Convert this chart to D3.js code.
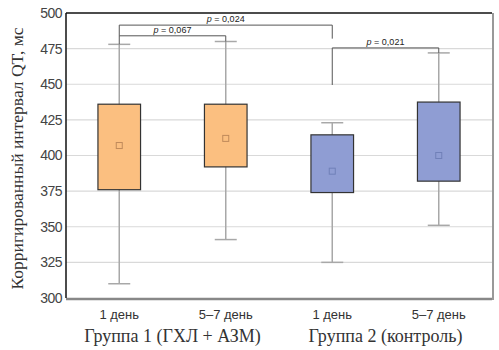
<!DOCTYPE html>
<html><head><meta charset="utf-8">
<script src="https://cdn.jsdelivr.net/npm/d3@7"></script>
<style>body{margin:0;background:#fff}svg{display:block}</style>
</head><body><svg id="c" width="499" height="350"></svg>
<script>
const categories = ["g1d1","g1d57","g2d1","g2d57"];
const dayLabels = ["1 день","5–7 день","1 день","5–7 день"];
const groupLabels = ["Группа 1 (ГХЛ + АЗМ)","Группа 2 (контроль)"];
const q1 = [376, 392, 374, 382];
const q3 = [436, 436, 414.5, 437.5];
const means = [407, 412, 389, 400];
const whiskerLow = [310, 341, 325, 351];
const whiskerHigh = [478, 480, 423, 472];
const fills = ["#fbbf80","#fbbf80","#8f9dd3","#8f9dd3"];
const yTicks = [300,325,350,375,400,425,450,475,500];
// brackets
const bracketFrom = [0, 0, 2];
const bracketTo = [2, 1, 3];
const bracketLevel = [491.5, 484, 475.5];
const bracketLeftEnd = [484, 478, 449.5];
const bracketRightEnd = [482, 480, 472];
const bracketLabel = ["0,024","0,067","0,021"];

const svg = d3.select("#c");
const L=66, R=492, T=13, B=298;
const x = d3.scaleBand().domain(categories).range([L,R]).paddingInner(0.6).paddingOuter(0.3);
const y = d3.scaleLinear().domain([300,500]).range([B,T]);
const cx = i => x(categories[i]) + x.bandwidth()/2;

// grid
svg.append("g").selectAll("line").data(yTicks.filter(t=>t>300&&t<500)).join("line")
  .attr("x1",L).attr("x2",R).attr("y1",d=>y(d)).attr("y2",d=>y(d))
  .attr("stroke","#d9d9d9").attr("stroke-width",1.2);

// y axis labels
const ax = svg.append("g").attr("transform",`translate(${L},0)`).call(d3.axisLeft(y).tickValues(yTicks).tickSize(0).tickPadding(4));
ax.select(".domain").remove();
ax.selectAll("text").attr("font-family","'Liberation Sans Narrow','Arial Narrow','Liberation Sans',sans-serif")
  .attr("font-size",14).attr("fill","#444").attr("letter-spacing","-0.5");

// boxes and whiskers
const g = svg.append("g");
categories.forEach((c,i)=>{
  const X = cx(i);
  g.append("line").attr("x1",X).attr("x2",X).attr("y1",y(whiskerLow[i])).attr("y2",y(whiskerHigh[i]))
    .attr("stroke","#a8a8a8").attr("stroke-width",1.5);
  [whiskerLow[i], whiskerHigh[i]].forEach(v=>{
    g.append("line").attr("x1",X-11).attr("x2",X+11).attr("y1",y(v)).attr("y2",y(v))
      .attr("stroke","#a8a8a8").attr("stroke-width",1.5);
  });
  g.append("rect").attr("x",x(c)).attr("width",x.bandwidth()).attr("y",y(q3[i])).attr("height",y(q1[i])-y(q3[i]))
    .attr("fill",fills[i]).attr("stroke","#333").attr("stroke-width",1.2);
  g.append("rect").attr("x",X-3).attr("y",y(means[i])-3).attr("width",6).attr("height",6)
    .attr("fill","none").attr("stroke", i<2 ? "#c08a5a" : "#7080b8").attr("stroke-width",1);
});

// brackets
const bg = svg.append("g");
bracketFrom.forEach((f,k)=>{
  const x1 = cx(f), x2 = cx(bracketTo[k]);
  const path = `M${x1},${y(bracketLeftEnd[k])}V${y(bracketLevel[k])}H${x2}V${y(bracketRightEnd[k])}`;
  bg.append("path").attr("d",path).attr("fill","none").attr("stroke","#555").attr("stroke-width",1);
  const t = bg.append("text").attr("x", k===0 ? cx(1) : (x1+x2)/2).attr("y",y(bracketLevel[k])-3).attr("text-anchor","middle")
    .attr("font-family","'Liberation Sans','Arial',sans-serif").attr("font-size",9).attr("fill","#222");
  t.append("tspan").attr("font-style","italic").text("p");
  t.append("tspan").text(" = " + bracketLabel[k]);
});

// frame
svg.append("line").attr("x1",L).attr("x2",R).attr("y1",B+1).attr("y2",B+1).attr("stroke","#888").attr("stroke-width",2.5);
svg.append("line").attr("x1",R+1).attr("x2",R+1).attr("y1",T).attr("y2",B+2).attr("stroke","#999").attr("stroke-width",2);
svg.append("line").attr("x1",L).attr("x2",R).attr("y1",T).attr("y2",T).attr("stroke","#111").attr("stroke-width",1.5);
svg.append("line").attr("x1",L).attr("x2",L).attr("y1",T).attr("y2",B).attr("stroke","#111").attr("stroke-width",1.5);

// x labels
categories.forEach((c,i)=>{
  svg.append("text").attr("x",cx(i)).attr("y",319).attr("text-anchor","middle")
    .attr("font-family","'Liberation Sans Narrow','Arial Narrow','Liberation Sans',sans-serif")
    .attr("font-size",13).attr("fill","#333").text(dayLabels[i]);
});
groupLabels.forEach((s,j)=>{
  svg.append("text").attr("x",(cx(2*j)+cx(2*j+1))/2).attr("y",342).attr("text-anchor","middle")
    .attr("font-family","'Liberation Serif','Times New Roman',serif").attr("font-size",18).attr("fill","#333").text(s);
});
svg.append("text").attr("transform",`translate(23,${(T+B)/2+3}) rotate(-90)`).attr("text-anchor","middle")
  .attr("font-family","'Liberation Serif','Times New Roman',serif").attr("font-size",17.5).attr("fill","#333")
  .text("Корригированный интервал QT, мс");
</script></body></html>
